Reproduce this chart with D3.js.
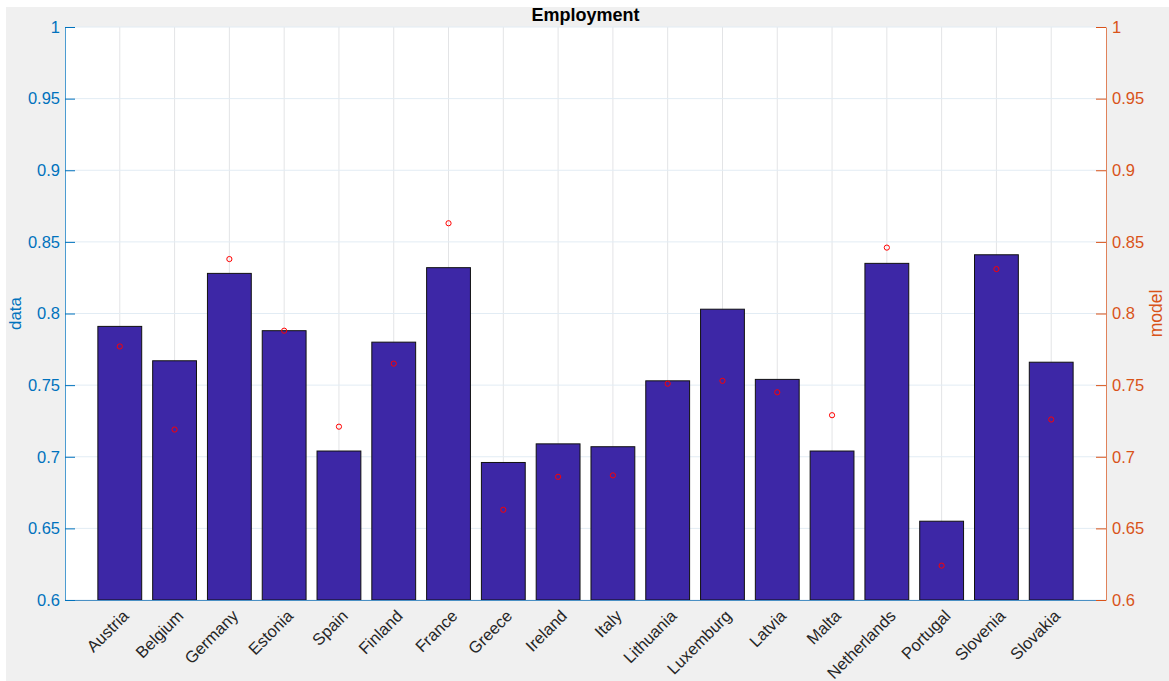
<!DOCTYPE html>
<html><head><meta charset="utf-8">
<script src="https://cdn.jsdelivr.net/npm/d3@7"></script>
<style>body{margin:0;background:#fff}svg{display:block;font-family:"Liberation Sans",Arial,Helvetica,sans-serif}</style>
</head><body><svg id="c" width="1169" height="681"></svg>
<script>
const countries = ["Austria","Belgium","Germany","Estonia","Spain","Finland","France","Greece","Ireland","Italy","Lithuania","Luxemburg","Latvia","Malta","Netherlands","Portugal","Slovenia","Slovakia"];
const dataValues = [0.791,0.767,0.828,0.788,0.704,0.780,0.832,0.696,0.709,0.707,0.753,0.803,0.754,0.704,0.835,0.655,0.841,0.766];
const modelValues = [0.777,0.719,0.838,0.788,0.721,0.765,0.863,0.663,0.686,0.687,0.751,0.753,0.745,0.729,0.846,0.624,0.831,0.726];
const yTicks = [0.6,0.65,0.7,0.75,0.8,0.85,0.9,0.95,1];
const yTickLabels = ["0.6","0.65","0.7","0.75","0.8","0.85","0.9","0.95","1"];

const svg = d3.select("#c");
const L = 65, R = 1106, T = 27, B = 600;
const blue = "#0072BD", orange = "#D95319";
const FF = "Liberation Sans, Arial, sans-serif";

svg.append("rect").attr("x",6).attr("y",7).attr("width",1163).attr("height",674).attr("fill","#f0f0f0");
svg.append("rect").attr("x",L).attr("y",T).attr("width",R-L).attr("height",B-T).attr("fill","#fff");

const x = d3.scaleLinear().domain([0, countries.length+1]).range([L,R]);
const yL = d3.scaleLinear().domain([0.6,1]).range([B,T]);
const yR = d3.scaleLinear().domain([0.6,1]).range([B,T]);
const bw = x(0.8)-x(0);

// grid
const g = svg.append("g");
g.selectAll("line.v").data(countries).join("line")
  .attr("x1",(d,i)=>x(i+1)).attr("x2",(d,i)=>x(i+1)).attr("y1",T).attr("y2",B)
  .attr("stroke","#e3e4e6").attr("stroke-width",1);
g.selectAll("line.h").data(yTicks).join("line")
  .attr("x1",L).attr("x2",R).attr("y1",d=>yL(d)).attr("y2",d=>yL(d))
  .attr("stroke","#e2ecf4").attr("stroke-width",1);

// bars
svg.append("g").selectAll("rect").data(dataValues).join("rect")
  .attr("x",(d,i)=>x(i+1)-bw/2).attr("width",bw)
  .attr("y",d=>yL(d)).attr("height",d=>yL(0.6)-yL(d))
  .attr("fill","#3d27a6").attr("stroke","#111").attr("stroke-width",1);

// markers
svg.append("g").selectAll("circle").data(modelValues).join("circle")
  .attr("cx",(d,i)=>x(i+1)).attr("cy",d=>yR(d)).attr("r",2.6)
  .attr("fill","none").attr("stroke","#ff0000").attr("stroke-width",1);

// bottom axis line
svg.append("line").attr("x1",L).attr("x2",R).attr("y1",B+0.5).attr("y2",B+0.5).attr("stroke","#4a90c4").attr("stroke-width",1);

// left axis
const axL = d3.axisLeft(yL).tickValues(yTicks).tickFormat((d,i)=>yTickLabels[i]).tickSizeInner(-10).tickSizeOuter(0).tickPadding(5);
const gL = svg.append("g").attr("transform",`translate(${L},0)`).call(axL);
gL.select(".domain").attr("stroke",blue).attr("stroke-width",1).attr("opacity",0.7);
gL.selectAll(".tick line").attr("stroke",blue);
gL.selectAll("text").attr("fill",blue).attr("font-size",16.5).attr("font-family",FF);

// right axis
const axR = d3.axisRight(yR).tickValues(yTicks).tickFormat((d,i)=>yTickLabels[i]).tickSizeInner(-10).tickSizeOuter(0).tickPadding(6);
const gR = svg.append("g").attr("transform",`translate(${R},0)`).call(axR);
gR.select(".domain").attr("stroke",orange).attr("stroke-width",1).attr("opacity",0.7);
gR.selectAll(".tick line").attr("stroke",orange);
gR.selectAll("text").attr("fill",orange).attr("font-size",16.5).attr("font-family",FF);

// category labels
svg.append("g").selectAll("text").data(countries).join("text")
  .attr("transform",(d,i)=>`translate(${x(i+1)+10},${B+17}) rotate(-45)`)
  .attr("text-anchor","end").attr("font-size",16.5).attr("fill","#262626")
  .text(d=>d);

// axis titles
svg.append("text").attr("transform",`translate(21,${(T+B)/2}) rotate(-90)`)
  .attr("text-anchor","middle").attr("fill",blue).attr("font-size",17).text("data");
svg.append("text").attr("transform",`translate(1162,${(T+B)/2}) rotate(-90)`)
  .attr("text-anchor","middle").attr("fill",orange).attr("font-size",17.5).text("model");

// title
svg.append("text").attr("x",(L+R)/2).attr("y",21).attr("text-anchor","middle")
  .attr("font-weight","bold").attr("font-size",18).attr("fill","#000").text("Employment");
</script></body></html>
